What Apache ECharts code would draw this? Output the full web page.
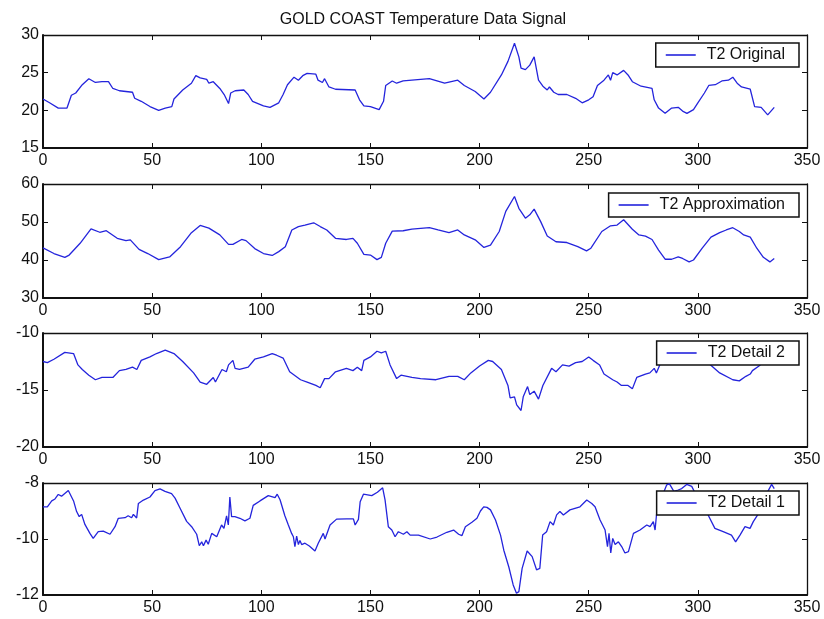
<!DOCTYPE html>
<html>
<head>
<meta charset="utf-8">
<script src="https://cdn.jsdelivr.net/npm/echarts@6/dist/echarts.min.js"></script>
<style>
  html, body { margin: 0; padding: 0; background: #fff; }
  #chart { width: 824px; height: 619px; }
</style>
</head>
<body>
<div id="chart"></div>
<script>
// Gold Coast T2 temperature signal and its wavelet decomposition, by day index.
const dayTicks = [0, 50, 100, 150, 200, 250, 300, 350];

const originalDay = [0,3,7,11,13,15,18,21,24,27,30,32,35,41,42,45,49,53,56,59,60,64,68,70,72,75,76,78,81,83,85,86,88,92,94,96,101,104,108,110,112,115,117,119,121,125,126,128,129,131,134,143,145,147,150,154,156,157,160,162,165,169,177,184,190,193,198,202,205,210,213,216,218,219,221,223,225,227,229,231,232,234,236,240,244,247,250,252,254,257,259,260,261,263,266,268,270,274,279,280,282,285,288,291,293,295,298,300,303,305,308,311,314,316,318,320,324,326,329,332,335];
const originalTemp = [21.5,21.0,20.3,20.3,22.0,22.3,23.4,24.2,23.7,23.8,23.8,22.9,22.6,22.4,21.6,21.2,20.5,20.0,20.3,20.5,21.5,22.7,23.6,24.6,24.3,24.1,23.6,23.8,22.9,22.1,20.9,22.3,22.6,22.7,22.1,21.2,20.6,20.4,21.0,22.1,23.4,24.4,24.0,24.6,24.9,24.8,24.0,23.7,24.2,23.1,22.8,22.7,21.4,20.6,20.5,20.1,21.2,23.3,23.9,23.6,23.9,24.0,24.2,23.6,24.0,23.3,22.5,21.5,22.4,24.7,26.5,28.9,27.1,25.6,25.4,26.0,27.1,24.0,23.2,22.7,23.1,22.4,22.1,22.1,21.6,21.0,21.4,21.8,23.3,24.0,24.7,24.0,25.0,24.7,25.3,24.7,23.8,23.2,22.9,21.4,20.3,19.6,20.3,20.4,19.9,19.6,20.1,21.0,22.3,23.3,23.4,23.9,24.0,24.4,23.6,23.1,22.8,20.5,20.4,19.4,20.4];

const approxDay = [0,5,10,12,17,22,26,29,34,38,40,44,48,53,58,63,68,72,76,81,85,87,91,93,97,101,105,108,111,114,117,120,124,127,130,134,139,142,144,147,150,153,155,157,160,165,169,177,181,186,190,193,198,202,205,209,212,216,218,221,223,225,228,231,235,240,245,249,251,256,260,263,266,270,273,276,279,282,285,288,291,293,296,298,302,306,310,313,316,319,321,324,327,330,333,335];
const approxTemp = [43.2,41.7,40.7,41.3,44.4,48.2,47.3,47.7,45.7,45.1,45.3,42.8,41.7,40.1,40.8,43.5,47.2,49.1,48.4,46.6,44.1,44.1,45.4,45.1,43.0,41.7,41.2,42.2,43.5,47.9,48.8,49.2,49.8,48.8,47.9,45.7,45.4,45.7,44.4,41.5,41.3,40.1,40.7,44.4,47.6,47.7,48.1,48.5,47.9,47.2,47.9,46.6,45.3,43.3,43.9,47.5,52.8,56.7,53.6,51.0,51.9,53.4,50.1,46.3,44.8,44.6,43.5,42.4,43.1,47.5,49.0,49.2,50.6,48.1,46.6,46.3,45.4,42.6,40.2,40.2,40.8,40.4,39.5,40.0,43.1,46.0,47.2,47.9,48.5,47.5,46.6,46.0,43.1,40.7,39.5,40.4];

const detail2Day = [0,2,5,10,14,16,18,21,24,27,32,35,38,41,43,45,49,52,56,60,64,69,72,75,78,79,82,84,85,87,88,90,94,97,101,105,107,110,113,118,121,125,127,129,131,134,139,142,144,146,147,150,153,155,157,159,162,164,169,173,180,186,190,193,196,200,204,206,210,213,214,216,217,219,220,222,223,225,227,229,233,235,238,241,244,247,250,252,255,257,261,263,265,268,270,272,276,278,280,281,283,286,290,295,300,304,307,310,316,319,322,324,325,328,331,335];
const detail2Val = [-12.5,-12.6,-12.3,-11.7,-11.8,-12.8,-13.2,-13.7,-14.1,-13.9,-13.9,-13.3,-13.2,-13.0,-13.2,-12.4,-12.1,-11.8,-11.5,-11.8,-12.5,-13.5,-14.3,-14.5,-13.9,-14.3,-13.2,-13.4,-12.8,-12.4,-13.1,-13.2,-13.0,-12.3,-12.1,-11.8,-11.95,-12.2,-13.4,-14.1,-14.3,-14.6,-14.8,-14.0,-14.0,-13.4,-13.1,-13.3,-13.0,-13.3,-12.4,-12.1,-11.6,-11.75,-11.6,-12.8,-14.0,-13.7,-13.9,-14.0,-14.1,-13.8,-13.8,-14.1,-13.5,-12.9,-12.4,-12.5,-13.2,-14.6,-15.7,-15.6,-16.3,-16.8,-15.6,-14.7,-15.4,-15.1,-15.8,-14.6,-13.1,-13.4,-12.8,-12.9,-12.6,-12.5,-12.1,-12.4,-12.8,-13.6,-14.1,-14.3,-14.6,-14.6,-14.9,-13.9,-13.6,-13.5,-13.1,-13.5,-12.6,-12.3,-11.9,-11.8,-12.0,-12.5,-13.0,-13.5,-14.1,-14.2,-13.8,-13.6,-13.3,-12.9,-12.4,-12.0];

const detail1Day = [0,2,4,5.5,7,8.5,11.6,12.4,14,15.4,16.6,17.7,19.2,21.5,23,25.3,27.6,30.7,33,34.5,37.6,39,40.6,41.4,42.9,43.7,46,49,51.3,53.6,55.9,58.9,60.5,62.8,65.8,68.1,70.4,71.6,72.7,73.5,74.7,75.7,77.3,79.6,81.8,82.9,84.1,84.9,85.6,86.4,87.9,90.2,92.5,94.8,96.3,99.4,103.2,106.3,107.3,108.6,110.8,112.4,113.9,114.7,115.4,116.2,117,117.7,118.5,120,122,124.6,126.1,128.4,129.2,131.5,134.5,139.1,142.2,143,144.5,145.3,146.8,150.6,153.2,155.6,156.7,158.2,159.8,161.3,162.8,165.1,166.7,168.2,172,177.4,180.5,185,188.1,190.4,191.9,193.5,196.5,198.8,200.4,201.9,203.4,205,207.3,209.6,211.1,213.4,215.4,216.9,218,219.5,221.8,224.1,226.1,227.6,228.9,230.7,232.3,233.8,235.3,236.8,238.4,241.4,246,249.1,251.4,252.9,255.2,257.5,258.6,259.3,260.1,261,262.1,263.6,265.1,266.6,268.2,270.5,273.5,276.6,278.1,279.6,280.4,281.1,283,285.7,287,289,291,292.6,294.9,297.2,299,302,304.7,307.8,311.6,315.4,317.3,319.3,321.6,323.9,325.4,327.4,330,333.8,335];
const detail1Val = [-8.85,-8.85,-8.64,-8.57,-8.41,-8.47,-8.27,-8.25,-8.64,-9.02,-9.2,-9.12,-9.48,-9.8,-9.98,-9.74,-9.72,-9.83,-9.56,-9.26,-9.24,-9.17,-9.24,-9.12,-9.25,-8.73,-8.61,-8.5,-8.27,-8.21,-8.3,-8.38,-8.54,-8.9,-9.37,-9.56,-9.83,-10.24,-10.1,-10.24,-10.04,-10.19,-9.8,-9.92,-9.5,-9.62,-9.17,-9.5,-8.5,-9.2,-9.2,-9.26,-9.35,-9.26,-8.8,-8.64,-8.45,-8.52,-8.4,-8.6,-9.17,-9.5,-9.8,-9.92,-10.27,-9.9,-10.2,-10.05,-10.2,-10.15,-10.25,-10.43,-10.15,-9.8,-10.0,-9.5,-9.29,-9.28,-9.28,-9.5,-9.3,-8.67,-8.4,-8.45,-8.33,-8.17,-8.6,-9.56,-9.68,-9.92,-9.74,-9.83,-9.74,-9.86,-9.86,-10.0,-9.93,-9.76,-9.68,-9.83,-9.88,-9.56,-9.4,-9.26,-9.0,-8.85,-8.87,-8.96,-9.32,-9.86,-10.4,-11.0,-11.64,-11.94,-11.88,-11.05,-10.43,-10.63,-11.1,-11.05,-9.86,-9.74,-9.38,-9.5,-9.14,-9.02,-9.14,-8.96,-8.85,-8.61,-8.73,-8.85,-9.32,-9.68,-10.27,-9.8,-10.5,-9.98,-10.2,-10.1,-10.27,-10.5,-10.45,-9.8,-9.68,-9.5,-9.56,-9.38,-9.68,-9.1,-8.6,-8.07,-8.03,-8.3,-8.25,-8.2,-8.05,-8.12,-8.4,-8.9,-9.14,-9.62,-9.74,-9.86,-10.1,-9.86,-9.56,-9.62,-9.38,-9.14,-8.6,-8.05,-8.2];

const panelNames = ['T2 Original', 'T2 Approximation', 'T2 Detail 2', 'T2 Detail 1'];
const panelY = [
  { min: 15, max: 30, interval: 5 },
  { min: 30, max: 60, interval: 10 },
  { min: -20, max: -10, interval: 5 },
  { min: -12, max: -8, interval: 2 }
];
const panelDays = [originalDay, approxDay, detail2Day, detail1Day];
const panelVals = [originalTemp, approxTemp, detail2Val, detail1Val];

const FONT = '"Liberation Sans", Arial, Helvetica, sans-serif';
const INK = '#111';
const LINE = '#2424dc';

const gridTops = [35, 184, 333, 483];
const gridHeights = [113, 114, 114, 112];
const legendTops = [43, 193, 341, 491];

const grid = [], xAxis = [], yAxis = [], series = [], legend = [];

panelNames.forEach((name, i) => {
  grid.push({ left: 43, right: 17, top: gridTops[i], height: gridHeights[i], containLabel: false });

  const axisLine = (w) => ({ show: true, onZero: false, lineStyle: { color: INK, width: w } });
  const tick = { show: true, inside: true, length: 5, lineStyle: { color: INK, width: 1 } };

  // bottom (labelled) and top (box) day axes
  xAxis.push({
    type: 'value', gridIndex: i, position: 'bottom', min: 0, max: 350, interval: 50,
    axisLine: axisLine(2), axisTick: tick, splitLine: { show: false },
    axisLabel: { color: INK, fontFamily: FONT, fontSize: 16, margin: 5, showMinLabel: true, showMaxLabel: true }
  });
  xAxis.push({
    type: 'value', gridIndex: i, position: 'top', min: 0, max: 350, interval: 50,
    axisLine: axisLine(1.3), axisTick: tick, splitLine: { show: false }, axisLabel: { show: false }
  });

  // left (labelled) and right (box) value axes
  const yr = panelY[i];
  yAxis.push({
    type: 'value', gridIndex: i, position: 'left', min: yr.min, max: yr.max, interval: yr.interval,
    axisLine: axisLine(2), axisTick: tick, splitLine: { show: false },
    axisLabel: { color: INK, fontFamily: FONT, fontSize: 16, margin: 4, showMinLabel: true, showMaxLabel: true }
  });
  yAxis.push({
    type: 'value', gridIndex: i, position: 'right', min: yr.min, max: yr.max, interval: yr.interval,
    axisLine: axisLine(1.3), axisTick: tick, splitLine: { show: false }, axisLabel: { show: false }
  });

  series.push({
    name: name,
    type: 'line',
    xAxisIndex: 2 * i,
    yAxisIndex: 2 * i,
    data: panelDays[i].map((d, k) => [d, panelVals[i][k]]),
    showSymbol: false,
    symbol: 'none',
    animation: false,
    lineStyle: { color: LINE, width: 1.3 },
    itemStyle: { color: LINE },
    z: 2
  });

  legend.push({
    data: [{ name: name, icon: 'rect' }],
    right: 25,
    top: legendTops[i],
    orient: 'horizontal',
    backgroundColor: '#fff',
    borderColor: INK,
    borderWidth: 1.5,
    borderRadius: 0,
    padding: [4, 14, 4, 10],
    itemWidth: 30,
    itemHeight: 1.6,
    selectedMode: false,
    textStyle: { color: INK, fontFamily: FONT, fontSize: 16, padding: [0, 0, 0, 6] },
    z: 10
  });
});

const chart = echarts.init(document.getElementById('chart'), null, { renderer: 'canvas' });
chart.setOption({
  backgroundColor: '#fff',
  animation: false,
  title: {
    text: 'GOLD COAST Temperature Data Signal',
    left: 418,
    top: 7,
    textAlign: 'center',
    textStyle: { color: INK, fontFamily: FONT, fontSize: 16, fontWeight: 'normal' }
  },
  grid, xAxis, yAxis, series, legend
});
</script>
</body>
</html>
